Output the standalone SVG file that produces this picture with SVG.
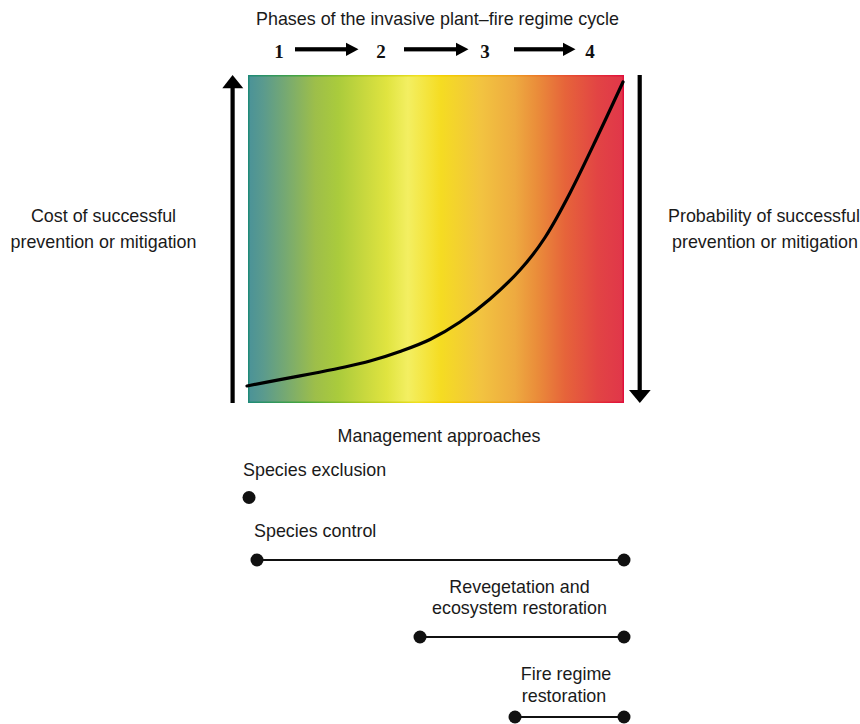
<svg xmlns="http://www.w3.org/2000/svg" width="860" height="724" viewBox="0 0 860 724">
<style>
.t{font-family:"Liberation Sans",Arial,sans-serif;font-size:17.9px;fill:#1a1a1a}
.m{text-anchor:middle}
.n{font-family:"Liberation Serif","Times New Roman",serif;font-size:19px;font-weight:bold;fill:#111;text-anchor:middle}
.ln{stroke:#111;stroke-width:2;fill:none}
.dot{fill:#111}
</style>
<defs>
<linearGradient id="g" x1="0" y1="0" x2="1" y2="0">
<stop offset="0" stop-color="#4a9298"/>
<stop offset="0.04" stop-color="#5a9a8e"/>
<stop offset="0.1" stop-color="#76a972"/>
<stop offset="0.178" stop-color="#9dbe4a"/>
<stop offset="0.24" stop-color="#aacb3c"/>
<stop offset="0.31" stop-color="#c8d83e"/>
<stop offset="0.37" stop-color="#e0e440"/>
<stop offset="0.425" stop-color="#f3ef62"/>
<stop offset="0.513" stop-color="#f5dc22"/>
<stop offset="0.62" stop-color="#f2c340"/>
<stop offset="0.71" stop-color="#eeaa40"/>
<stop offset="0.77" stop-color="#ea8c3a"/>
<stop offset="0.843" stop-color="#e6643a"/>
<stop offset="0.93" stop-color="#e24444"/>
<stop offset="1" stop-color="#e0364a"/>
</linearGradient>
<linearGradient id="gb" x1="0" y1="0" x2="1" y2="0">
<stop offset="0" stop-color="#1f8a78"/>
<stop offset="0.15" stop-color="#4aa83a"/>
<stop offset="0.3" stop-color="#a8c820"/>
<stop offset="0.45" stop-color="#f0e020"/>
<stop offset="0.52" stop-color="#f5d000"/>
<stop offset="0.7" stop-color="#f0a020"/>
<stop offset="0.85" stop-color="#e85030"/>
<stop offset="1" stop-color="#e0103c"/>
</linearGradient>
</defs>

<g id="title">
<text class="t m" x="437.5" y="25">Phases of the invasive plant–fire regime cycle</text>
</g>

<g id="phases">
<text class="n" x="279" y="58">1</text>
<text class="n" x="381" y="58">2</text>
<text class="n" x="485" y="58">3</text>
<text class="n" x="590" y="58">4</text>
</g>

<g id="chart">
<rect x="248" y="75" width="376" height="328" fill="url(#g)"/>
<rect x="248.75" y="75.75" width="374.5" height="326.5" fill="none" stroke="url(#gb)" stroke-width="1.5"/>
<path d="M247,386 C252.5,384.9 269.5,381.6 280,379.6 C290.5,377.6 300,375.9 310,374 C320,372.1 330,370.2 340,368 C350,365.8 360,363.8 370,361 C380,358.3 390,355.1 400,351.5 C410,347.9 420,344.4 430,339.5 C440,334.6 450,328.8 460,322 C470,315.3 480,307.7 490,299 C500,290.3 510.8,280.3 520,270 C529.2,259.8 536.7,250.3 545,237.5 C553.3,224.7 561.7,209 570,193 C578.3,177 586.2,160.3 595,141.8 C603.8,123.3 618.3,92 623,82" fill="none" stroke="#000" stroke-width="3.2" stroke-linecap="round"/>
</g>

<g id="axis-left">
<text class="t m" x="103.5" y="222">Cost of successful</text>
<text class="t m" x="103.5" y="248">prevention or mitigation</text>
</g>
<g id="axis-right">
<text class="t m" x="764" y="222">Probability of successful</text>
<text class="t m" x="765" y="248">prevention or mitigation</text>
</g>

<g id="connectors">
<rect x="295" y="47.2" width="53" height="4.2" fill="#000"/>
<polygon points="346,42.8 358.5,49.3 346,56" fill="#000"/>
<rect x="404" y="47.2" width="53" height="4.2" fill="#000"/>
<polygon points="456,42.8 468.5,49.3 456,56" fill="#000"/>
<rect x="514" y="47.2" width="52" height="4.2" fill="#000"/>
<polygon points="563,42.8 575.5,49.3 563,56" fill="#000"/>
<rect x="230.5" y="87" width="4.2" height="316" fill="#000"/>
<polygon points="222.3,88.3 243.3,88.3 232.6,75" fill="#000"/>
<rect x="637.6" y="75" width="4.2" height="316" fill="#000"/>
<polygon points="629,390 650.7,390 639.8,403" fill="#000"/>
</g>

<g id="management">
<text class="t m" x="439" y="442">Management approaches</text>
</g>

<g id="species-exclusion">
<text class="t" x="243" y="476">Species exclusion</text>
<circle class="dot" cx="249" cy="497.5" r="6.5"/>
</g>

<g id="species-control">
<text class="t" x="254" y="537">Species control</text>
<line class="ln" x1="257" y1="560" x2="624" y2="560"/>
<circle class="dot" cx="257" cy="560" r="6.5"/>
<circle class="dot" cx="624" cy="560" r="6.5"/>
</g>

<g id="revegetation">
<text class="t m" x="519.5" y="593">Revegetation and</text>
<text class="t m" x="519.5" y="614">ecosystem restoration</text>
<line class="ln" x1="420" y1="637" x2="624" y2="637"/>
<circle class="dot" cx="420" cy="637" r="6.5"/>
<circle class="dot" cx="624" cy="637" r="6.5"/>
</g>

<g id="fire-regime">
<text class="t m" x="566" y="680">Fire regime</text>
<text class="t m" x="564" y="702">restoration</text>
<line class="ln" x1="515" y1="717" x2="624" y2="717"/>
<circle class="dot" cx="515" cy="717" r="6.5"/>
<circle class="dot" cx="624" cy="717" r="6.5"/>
</g>
</svg>
